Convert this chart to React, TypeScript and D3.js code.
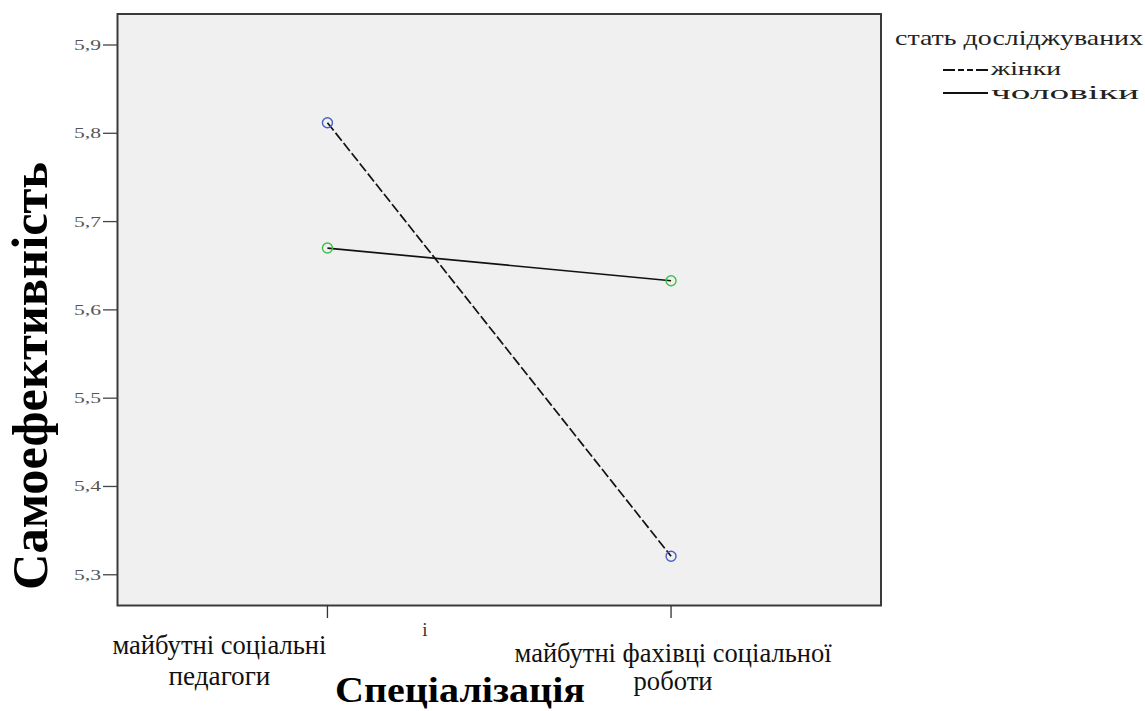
import * as d3 from "d3";

// category labels split into lines as drawn
const categories = ["педагоги", "роботи"];
const categoryLines = [
  ["майбутні соціальні", "педагоги"],
  ["майбутні фахівці соціальної", "роботи"],
];
const women = [5.812, 5.321];
const men = [5.67, 5.633];
const yTicks = [5.3, 5.4, 5.5, 5.6, 5.7, 5.8, 5.9];
const legendTitle = "стать досліджуваних";
const seriesNames = ["жінки", "чоловіки"];

const W = 1145;
const H = 711;
const box = { left: 117.5, right: 881, top: 14, bottom: 605.5 };
const serif = { fontFamily: "'Liberation Serif', 'Times New Roman', serif" };

// layout tweaks for the category labels (offset from tick, baselines, line widths)
const labelLayout = [
  { dx: -108, bases: [654, 685], widths: [214, 102] },
  { dx: 2, bases: [662, 690], widths: [317, 79] },
];

const App = () => {
  const x = d3
    .scalePoint<string>()
    .domain(categories)
    .range([box.left, box.right])
    .padding(0.611);
  const y = d3.scaleLinear().domain([5.2652, 5.9351]).range([box.bottom, box.top]);

  const line = d3
    .line<number>()
    .x((_, i) => x(categories[i]) as number)
    .y((d) => y(d));

  const series = [
    { name: seriesNames[0], values: women, dash: "10,3", marker: "#4a5fc4" },
    { name: seriesNames[1], values: men, dash: null, marker: "#3cc24a" },
  ];

  return (
    <svg
      width={W}
      height={H}
      style={{ position: "absolute", left: 0, top: 0, background: "#fff" }}
    >
      {/* plot frame */}
      <rect
        x={box.left}
        y={box.top}
        width={box.right - box.left}
        height={box.bottom - box.top}
        fill="#f0f0f0"
        stroke="#3a3a3a"
        strokeWidth={2}
      />

      {/* y axis */}
      {yTicks.map((t) => (
        <g key={t}>
          <line x1={103} x2={box.left} y1={y(t)} y2={y(t)} stroke="#444" strokeWidth={1.3} />
          <text
            x={74}
            y={y(t) + 5}
            fontSize={15}
            fill="#555"
            style={serif}
            textLength={27}
            lengthAdjust="spacingAndGlyphs"
          >
            {String(t).replace(".", ",")}
          </text>
        </g>
      ))}

      {/* x axis ticks + labels */}
      {categories.map((c, i) => {
        const cx = x(c) as number;
        const lay = labelLayout[i];
        return (
          <g key={c}>
            <line x1={cx} x2={cx} y1={box.bottom} y2={618} stroke="#333" strokeWidth={1.3} />
            {categoryLines[i].map((ln, j) => (
              <text
                key={j}
                x={cx + lay.dx}
                y={lay.bases[j]}
                fontSize={28}
                textAnchor="middle"
                fill="#111"
                style={serif}
                textLength={lay.widths[j]}
                lengthAdjust="spacingAndGlyphs"
              >
                {ln}
              </text>
            ))}
          </g>
        );
      })}
      <text x={425} y={636} fontSize={19} textAnchor="middle" fill="#333" style={serif}>
        і
      </text>

      {/* series */}
      {series.map((s) => (
        <g key={s.name}>
          <path
            d={line(s.values) ?? ""}
            fill="none"
            stroke="#111"
            strokeWidth={1.7}
            strokeDasharray={s.dash ?? undefined}
          />
          {s.values.map((v, i) => (
            <circle
              key={i}
              cx={x(categories[i]) as number}
              cy={y(v)}
              r={5}
              fill="none"
              stroke={s.marker}
              strokeWidth={1.4}
            />
          ))}
        </g>
      ))}

      {/* axis titles */}
      <text
        x={460}
        y={702}
        fontSize={35}
        fontWeight="bold"
        textAnchor="middle"
        fill="#000"
        style={serif}
        textLength={250}
        lengthAdjust="spacingAndGlyphs"
      >
        Спеціалізація
      </text>
      <text
        transform="translate(47,376) rotate(-90)"
        fontSize={50}
        fontWeight="bold"
        textAnchor="middle"
        fill="#000"
        style={serif}
        textLength={428}
        lengthAdjust="spacingAndGlyphs"
      >
        Самоефективність
      </text>

      {/* legend */}
      <text
        x={895}
        y={45}
        fontSize={21}
        fill="#222"
        style={serif}
        textLength={248}
        lengthAdjust="spacingAndGlyphs"
      >
        {legendTitle}
      </text>
      {series.map((s, i) => (
        <g key={s.name}>
          <line
            x1={943}
            x2={988}
            y1={70 + i * 23}
            y2={70 + i * 23}
            stroke="#111"
            strokeWidth={1.8}
            strokeDasharray={s.dash ? "12,3,6,3,6,3" : undefined}
          />
          <text
            x={991}
            y={75 + i * 24}
            fontSize={19}
            fill="#222"
            style={serif}
            textLength={i === 0 ? 70 : 148}
            lengthAdjust="spacingAndGlyphs"
          >
            {s.name}
          </text>
        </g>
      ))}
    </svg>
  );
};

export default App;
